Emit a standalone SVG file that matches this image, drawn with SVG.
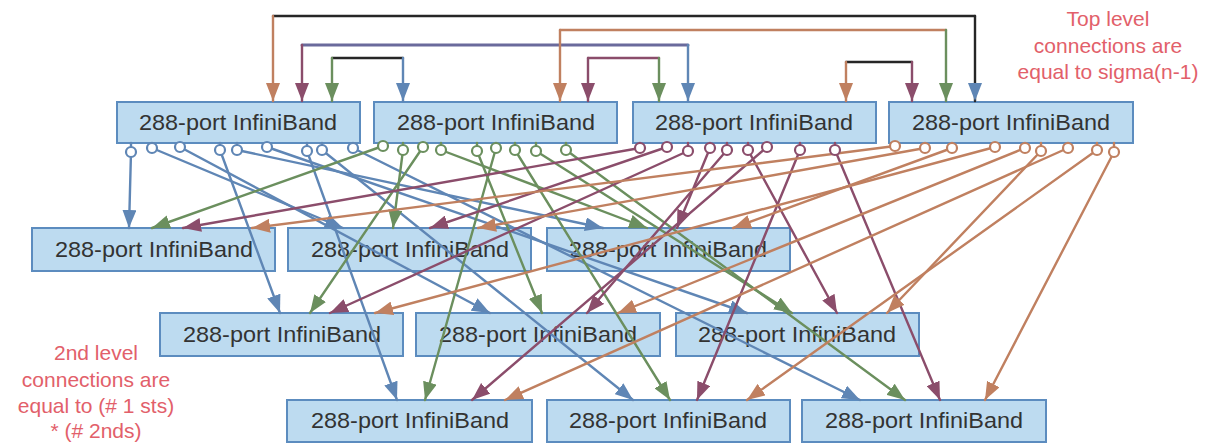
<svg xmlns="http://www.w3.org/2000/svg" width="1220" height="446" viewBox="0 0 1220 446">
<style>
.box{fill:#bddbf0;stroke:#5c8cbf;stroke-width:2}
.lbl{font-family:"Liberation Sans",Arial,sans-serif;font-size:22px;fill:#333;text-anchor:middle}
.note{font-family:"Liberation Sans",Arial,sans-serif;font-size:21px;fill:#e2606a;text-anchor:middle}
.c{fill:none;stroke-width:2.4;stroke-linecap:round;stroke-linejoin:round}
.b{stroke:#5f86b5}.g{stroke:#6b8f5e}.m{stroke:#8b4d6b}.o{stroke:#c08060}.k{stroke:#262626}.p{stroke:#6a6a9c;stroke-width:3}
.port{fill:#fff;stroke-width:2.2}
.eb{marker-end:url(#ab)}.eg{marker-end:url(#ag)}.em{marker-end:url(#am)}.eo{marker-end:url(#ao)}
</style>
<defs>
<marker id="ab" markerUnits="userSpaceOnUse" markerWidth="19" markerHeight="14" refX="18" refY="7" orient="auto"><path d="M0,0 L18,7 L0,14 z" fill="#5f86b5"/></marker>
<marker id="ag" markerUnits="userSpaceOnUse" markerWidth="19" markerHeight="14" refX="18" refY="7" orient="auto"><path d="M0,0 L18,7 L0,14 z" fill="#6b8f5e"/></marker>
<marker id="am" markerUnits="userSpaceOnUse" markerWidth="19" markerHeight="14" refX="18" refY="7" orient="auto"><path d="M0,0 L18,7 L0,14 z" fill="#8b4d6b"/></marker>
<marker id="ao" markerUnits="userSpaceOnUse" markerWidth="19" markerHeight="14" refX="18" refY="7" orient="auto"><path d="M0,0 L18,7 L0,14 z" fill="#c08060"/></marker>
</defs>

<g id="T1"><rect class="box" x="117" y="102" width="243" height="41"/><text class="lbl" x="238" y="130" textLength="198" lengthAdjust="spacingAndGlyphs">288-port InfiniBand</text></g>
<g id="T2"><rect class="box" x="374" y="102" width="243" height="41"/><text class="lbl" x="496" y="130" textLength="198" lengthAdjust="spacingAndGlyphs">288-port InfiniBand</text></g>
<g id="T3"><rect class="box" x="633" y="102" width="243" height="41"/><text class="lbl" x="754" y="130" textLength="198" lengthAdjust="spacingAndGlyphs">288-port InfiniBand</text></g>
<g id="T4"><rect class="box" x="889" y="102" width="244" height="41"/><text class="lbl" x="1011" y="130" textLength="198" lengthAdjust="spacingAndGlyphs">288-port InfiniBand</text></g>
<g id="R2a"><rect class="box" x="32" y="228" width="243" height="43"/><text class="lbl" x="154" y="257" textLength="198" lengthAdjust="spacingAndGlyphs">288-port InfiniBand</text></g>
<g id="R2b"><rect class="box" x="288" y="228" width="243" height="43"/><text class="lbl" x="410" y="257" textLength="198" lengthAdjust="spacingAndGlyphs">288-port InfiniBand</text></g>
<g id="R2c"><rect class="box" x="547" y="228" width="243" height="43"/><text class="lbl" x="668" y="257" textLength="198" lengthAdjust="spacingAndGlyphs">288-port InfiniBand</text></g>
<g id="R3a"><rect class="box" x="160" y="313" width="243" height="43"/><text class="lbl" x="282" y="342" textLength="198" lengthAdjust="spacingAndGlyphs">288-port InfiniBand</text></g>
<g id="R3b"><rect class="box" x="416" y="313" width="244" height="43"/><text class="lbl" x="538" y="342" textLength="198" lengthAdjust="spacingAndGlyphs">288-port InfiniBand</text></g>
<g id="R3c"><rect class="box" x="676" y="313" width="243" height="43"/><text class="lbl" x="797" y="342" textLength="198" lengthAdjust="spacingAndGlyphs">288-port InfiniBand</text></g>
<g id="R4a"><rect class="box" x="287" y="400" width="245" height="42"/><text class="lbl" x="410" y="428" textLength="198" lengthAdjust="spacingAndGlyphs">288-port InfiniBand</text></g>
<g id="R4b"><rect class="box" x="547" y="400" width="243" height="42"/><text class="lbl" x="668" y="428" textLength="198" lengthAdjust="spacingAndGlyphs">288-port InfiniBand</text></g>
<g id="R4c"><rect class="box" x="802" y="400" width="244" height="42"/><text class="lbl" x="924" y="428" textLength="198" lengthAdjust="spacingAndGlyphs">288-port InfiniBand</text></g>

<g id="connectors">
<!-- top level connections -->
<path class="c k" d="M273,16 H975"/><path class="c o eo" d="M273,16 V101"/><path class="c k eb" d="M975,16 V101"/>
<path class="c p" d="M302,45 H688"/><path class="c m em" d="M302,45 V101"/><path class="c b eb" d="M688,45 V101"/>
<path class="c k" d="M332,58 H403"/><path class="c g eg" d="M332,58 V101"/><path class="c b eb" d="M403,58 V101"/>
<path class="c o" d="M560,30 H946"/><path class="c o eo" d="M560,30 V101"/><path class="c g eg" d="M946,30 V101"/>
<path class="c m" d="M588,58 H659"/><path class="c m em" d="M588,58 V101"/><path class="c g eg" d="M659,58 V101"/>
<path class="c k" d="M846,62 H912"/><path class="c o eo" d="M846,62 V101"/><path class="c m em" d="M912,62 V101"/>

<!-- T1 blue -->
<path class="c b eb" d="M131,143 V152 L129,228"/>
<path class="c b eb" d="M152,143 V148 L343,228"/>
<path class="c b eb" d="M180,143 V147 L490,313"/>
<path class="c b eb" d="M220,143 V150 L280,313"/>
<path class="c b eb" d="M237,143 V150 L603,228"/>
<path class="c b eb" d="M267,143 V147 L747,313"/>
<path class="c b eb" d="M307,143 V151 L397,400"/>
<path class="c b eb" d="M322,143 V150 L633,400"/>
<path class="c b eb" d="M353,143 V148 L860,400"/>
<!-- T2 green -->
<path class="c g eg" d="M383,143 V146 L152,228"/>
<path class="c g eg" d="M403,143 V150 L393,228"/>
<path class="c g eg" d="M423,143 V147 L310,313"/>
<path class="c g eg" d="M441,143 V150 L647,228"/>
<path class="c g eg" d="M477,143 V151 L542,313"/>
<path class="c g eg" d="M496,143 V148 L425,400"/>
<path class="c g eg" d="M515,143 V150 L670,400"/>
<path class="c g eg" d="M536,143 V151 L792,313"/>
<path class="c g eg" d="M566,143 V150 L905,400"/>
<!-- T3 maroon -->
<path class="c m em" d="M640,143 V148 L183,228"/>
<path class="c m em" d="M667,143 V147 L430,228"/>
<path class="c m em" d="M688,143 V151 L330,313"/>
<path class="c m em" d="M710,143 V148 L677,228"/>
<path class="c m em" d="M727,143 V150 L587,313"/>
<path class="c m em" d="M748,143 V150 L837,313"/>
<path class="c m em" d="M767,143 V147 L472,400"/>
<path class="c m em" d="M800,143 V150 L697,400"/>
<path class="c m em" d="M835,143 V150 L940,400"/>
<!-- T4 orange -->
<path class="c o eo" d="M895,143 V146 L252,228"/>
<path class="c o eo" d="M925,143 V148 L478,228"/>
<path class="c o eo" d="M952,143 V148 L733,228"/>
<path class="c o eo" d="M995,143 V147 L375,313"/>
<path class="c o eo" d="M1025,143 V148 L618,313"/>
<path class="c o eo" d="M1041,143 V151 L887,313"/>
<path class="c o eo" d="M1068,143 V148 L505,400"/>
<path class="c o eo" d="M1097,143 V150 L747,400"/>
<path class="c o eo" d="M1114,143 V152 L985,400"/>

<!-- ports -->
<g class="b">
<circle class="port" cx="131" cy="152" r="5"/><circle class="port" cx="152" cy="148" r="5"/><circle class="port" cx="180" cy="147" r="5"/><circle class="port" cx="220" cy="150" r="5"/><circle class="port" cx="237" cy="150" r="5"/><circle class="port" cx="267" cy="147" r="5"/><circle class="port" cx="307" cy="151" r="5"/><circle class="port" cx="322" cy="150" r="5"/><circle class="port" cx="353" cy="148" r="5"/>
</g>
<g class="g">
<circle class="port" cx="383" cy="146" r="5"/><circle class="port" cx="403" cy="150" r="5"/><circle class="port" cx="423" cy="147" r="5"/><circle class="port" cx="441" cy="150" r="5"/><circle class="port" cx="477" cy="151" r="5"/><circle class="port" cx="496" cy="148" r="5"/><circle class="port" cx="515" cy="150" r="5"/><circle class="port" cx="536" cy="151" r="5"/><circle class="port" cx="566" cy="150" r="5"/>
</g>
<g class="m">
<circle class="port" cx="640" cy="148" r="5"/><circle class="port" cx="667" cy="147" r="5"/><circle class="port" cx="688" cy="151" r="5"/><circle class="port" cx="710" cy="148" r="5"/><circle class="port" cx="727" cy="150" r="5"/><circle class="port" cx="748" cy="150" r="5"/><circle class="port" cx="767" cy="147" r="5"/><circle class="port" cx="800" cy="150" r="5"/><circle class="port" cx="835" cy="150" r="5"/>
</g>
<g class="o">
<circle class="port" cx="895" cy="146" r="5"/><circle class="port" cx="925" cy="148" r="5"/><circle class="port" cx="952" cy="148" r="5"/><circle class="port" cx="995" cy="147" r="5"/><circle class="port" cx="1025" cy="148" r="5"/><circle class="port" cx="1041" cy="151" r="5"/><circle class="port" cx="1068" cy="148" r="5"/><circle class="port" cx="1097" cy="150" r="5"/><circle class="port" cx="1114" cy="152" r="5"/>
</g>
</g>

<g id="note-top">
<text class="note" x="1108" y="26">Top level</text>
<text class="note" x="1108" y="53">connections are</text>
<text class="note" x="1108" y="79">equal to sigma(n-1)</text>
</g>
<g id="note-bottom">
<text class="note" x="96" y="360">2nd level</text>
<text class="note" x="96" y="387">connections are</text>
<text class="note" x="96" y="413">equal to (# 1 sts)</text>
<text class="note" x="96" y="438">* (# 2nds)</text>
</g>
</svg>
